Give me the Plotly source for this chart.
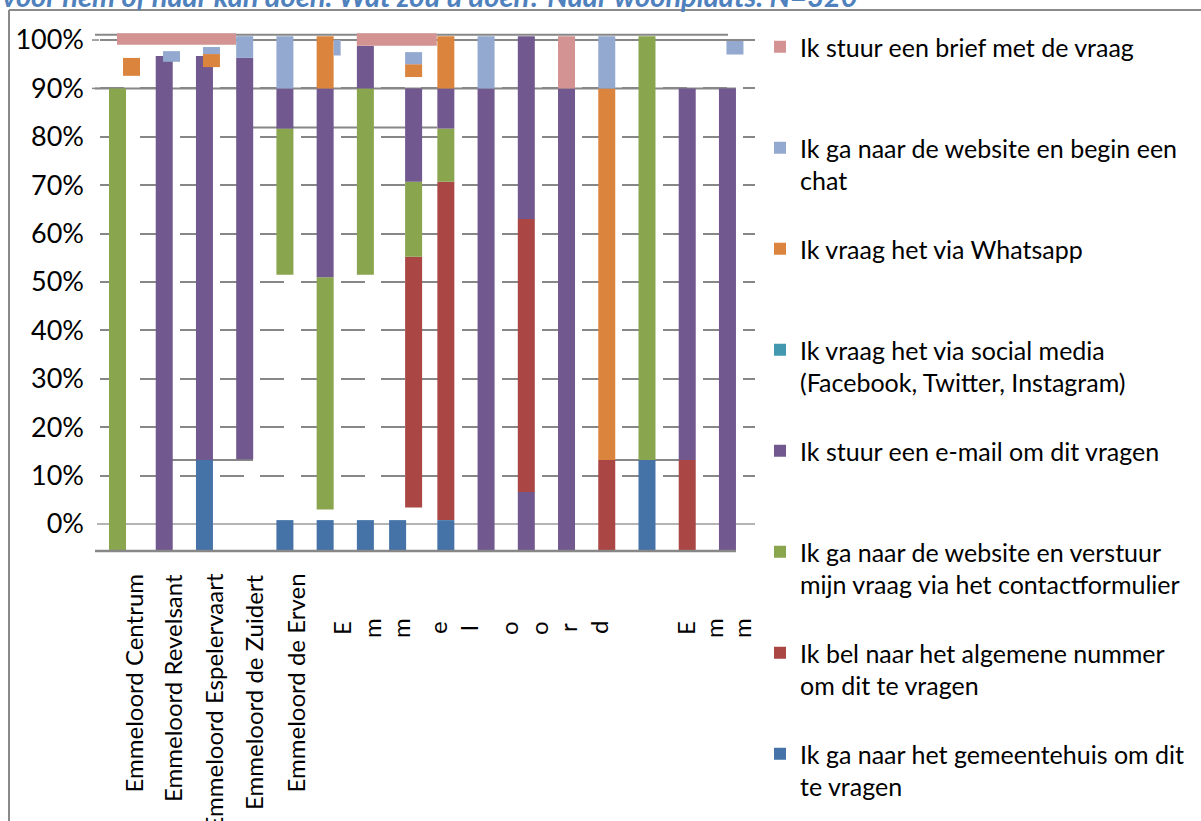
import plotly.graph_objects as go

# ---------------------------------------------------------------------------
# Data: share of respondents per answer, per woonplaats (fractions of 1).
# For every answer the lower and upper edge of its segment in each bar.
# ---------------------------------------------------------------------------
N = None

labels = ["Emmeloord Centrum", "Emmeloord Revelsant", "Emmeloord Espelervaart",
          "Emmeloord de Zuidert", "Emmeloord de Erven",
          "E", "m", "m", "e", "l", "o", "o", "r", "d", "E", "m", "m"]

bars = list(range(16))

gemeentehuis_van = [N, N, -0.056, N, -0.056, -0.056, -0.056, -0.056, -0.056, N, N, N, N, -0.056, N, N]
gemeentehuis_tot = [N, N, 0.132, N, 0.008, 0.008, 0.008, 0.008, 0.008, N, N, N, N, 0.132, N, N]

bel_van = [N, N, N, N, N, N, N, 0.034, 0.008, N, 0.066, N, -0.056, N, -0.056, N]
bel_tot = [N, N, N, N, N, N, N, 0.552, 0.707, N, 0.630, N, 0.132, N, 0.132, N]

formulier_van = [-0.056, N, N, N, 0.515, 0.030, 0.515, 0.552, 0.707, N, N, N, N, 0.132, N, N]
formulier_tot = [0.900, N, N, N, 0.817, 0.510, 0.900, 0.707, 0.817, N, N, N, N, 1.008, N, N]

email_van = [N, -0.056, 0.132, 0.134, 0.817, 0.510, 0.900, 0.707, 0.817, -0.056, -0.056, -0.056, N, N, 0.132, -0.056]
email_tot = [N, 0.967, 0.967, 0.963, 0.900, 0.900, 0.988, 0.900, 0.900, 0.900, 0.066, 0.900, N, N, 0.900, 0.900]
email_van_2 = [N, N, N, N, N, N, N, N, N, N, 0.630, N, N, N, N, N]
email_tot_2 = [N, N, N, N, N, N, N, N, N, N, 1.008, N, N, N, N, N]

social_van = [N] * 16
social_tot = [N] * 16

whatsapp_van = [0.926, N, 0.944, N, N, 0.900, N, 0.9235, 0.900, N, N, N, 0.132, N, N, N]
whatsapp_tot = [0.963, N, 0.971, N, N, 1.008, N, 0.950, 1.008, N, N, N, 0.900, N, N, N]

chat_van = [N, 0.955, 0.971, 0.963, 0.900, 0.968, N, 0.950, N, 0.900, N, N, 0.900, N, N, 0.970]
chat_tot = [N, 0.977, 0.9855, 1.008, 1.008, 1.000, N, 0.975, N, 1.008, N, N, 1.008, N, N, 0.998]

brief_van = [0.990, N, N, N, N, N, 0.988, N, N, N, N, 0.900, N, N, N, N]
brief_tot = [1.014, N, N, N, N, N, 1.014, N, N, N, N, 1.008, N, N, N, N]

# ---------------------------------------------------------------------------
# Layout geometry
# ---------------------------------------------------------------------------
W, H = 1201, 821
L, R, T, B = 97, 755, 33, 551          # plot area in pixels
PX_CAT = 40.23                         # pixels per bar step
X0_PX = 124.0                          # pixel centre of the first bar
BAR_PX = 17.0                          # bar width in pixels

x_range = [(L - X0_PX) / PX_CAT, (R - X0_PX) / PX_CAT]
y_range = [-0.0558, 1.0145]


def px_x(px):
    return (px - X0_PX) / PX_CAT


def paper_x(px):
    return (px - L) / (R - L)


def paper_y(py):
    return (B - py) / (B - T)


# segments drawn off their slot: (series, bar) -> (shift px, width px)
nudges = {
    ("formulier", 0): (-6.5, 17), ("whatsapp", 0): (7.5, 17), ("brief", 0): (52.5, 119),
    ("chat", 1): (7.3, 17),
    ("chat", 2): (7, 17), ("whatsapp", 2): (7, 17),
    ("chat", 5): (12, 7),
    ("brief", 6): (31.4, 80),
    ("gemeentehuis", 7): (-8, 17), ("bel", 7): (8, 17), ("formulier", 7): (8, 17),
    ("email", 7): (8, 17), ("whatsapp", 7): (8, 17), ("chat", 7): (8, 17),
    ("chat", 15): (7.5, 17),
}

# stacking order bottom -> top; the legend lists them top -> bottom in reverse
series = [
    ("gemeentehuis", "Ik ga naar het gemeentehuis om dit<br>te vragen", "#4572A7",
     gemeentehuis_van, gemeentehuis_tot),
    ("bel", "Ik bel naar het algemene nummer<br>om dit te vragen", "#AA4643",
     bel_van, bel_tot),
    ("formulier", "Ik ga naar de website en verstuur<br>mijn vraag via het contactformulier", "#89A54E",
     formulier_van, formulier_tot),
    ("email", "Ik stuur een e-mail om dit vragen<br>\u00a0", "#71588F",
     email_van, email_tot),
    ("social", "Ik vraag het via social media<br>(Facebook, Twitter, Instagram)", "#4198AF",
     social_van, social_tot),
    ("whatsapp", "Ik vraag het via Whatsapp<br>\u00a0", "#DB843D",
     whatsapp_van, whatsapp_tot),
    ("chat", "Ik ga naar de website en begin een<br>chat", "#93A9CF",
     chat_van, chat_tot),
    ("brief", "Ik stuur een brief met de vraag<br>\u00a0", "#D39392",
     brief_van, brief_tot),
]


def segment_trace(key, name, color, van, tot, rank, show=True):
    heights, widths, offsets = [], [], []
    for i, (a, b) in enumerate(zip(van, tot)):
        heights.append(None if a is None else b - a)
        dx, w = nudges.get((key, i), (0, BAR_PX))
        wu = w / PX_CAT
        widths.append(wu)
        offsets.append(dx / PX_CAT - wu / 2)
    return go.Bar(
        x=bars, y=heights, base=van, width=widths, offset=offsets,
        name=name, legendgroup=key, legendrank=rank, showlegend=show,
        marker=dict(color=color, line=dict(width=0)),
        hoverinfo="skip",
    )


fig = go.Figure()
for k, (key, name, color, van, tot) in enumerate(series):
    rank = len(series) - k
    fig.add_trace(segment_trace(key, name, color, van, tot, rank))
    if key == "email":
        fig.add_trace(segment_trace(key, name, color, email_van_2, email_tot_2, rank, show=False))

GRID = "#878787"

shapes = [
    # chart frame
    dict(type="line", xref="paper", yref="paper", x0=paper_x(9), x1=paper_x(1205),
         y0=paper_y(10), y1=paper_y(10), line=dict(color="#8a8a8a", width=2)),
    dict(type="line", xref="paper", yref="paper", x0=paper_x(9), x1=paper_x(9),
         y0=paper_y(10), y1=paper_y(830), line=dict(color="#8a8a8a", width=2)),
    # solid upper gridlines
    dict(type="line", xref="paper", yref="y", x0=paper_x(95), x1=paper_x(736),
         y0=0.9, y1=0.9, line=dict(color=GRID, width=2), layer="below"),
    dict(type="line", xref="paper", yref="y", x0=paper_x(111), x1=paper_x(755),
         y0=1.0, y1=1.0, line=dict(color=GRID, width=2), layer="below"),
    dict(type="line", xref="paper", yref="y", x0=paper_x(95), x1=paper_x(728),
         y0=1.011, y1=1.011, line=dict(color=GRID, width=2), layer="below"),
    dict(type="line", xref="paper", yref="y", x0=paper_x(252), x1=paper_x(437),
         y0=0.819, y1=0.819, line=dict(color=GRID, width=2), layer="below"),
    dict(type="line", xref="paper", yref="y", x0=paper_x(172), x1=paper_x(253),
         y0=0.132, y1=0.132, line=dict(color=GRID, width=2), layer="below"),
    dict(type="line", xref="paper", yref="y", x0=paper_x(615), x1=paper_x(679),
         y0=0.132, y1=0.132, line=dict(color=GRID, width=2), layer="below"),
    # small value-axis tick marks
    dict(type="line", xref="paper", yref="y", x0=paper_x(92), x1=paper_x(99),
         y0=1.0, y1=1.0, line=dict(color=GRID, width=1.5)),
    dict(type="line", xref="paper", yref="y", x0=paper_x(92), x1=paper_x(99),
         y0=0.9, y1=0.9, line=dict(color=GRID, width=1.5)),
    # category axis line
    dict(type="line", xref="paper", yref="paper", x0=paper_x(95), x1=paper_x(736),
         y0=0, y1=0, line=dict(color=GRID, width=2.5)),
]

FONT = "Lato"
annotations = [
    dict(text="<b><i>voor hem of haar kan doen. Wat zou u doen? Naar woonplaats. N=320</i></b>",
         xref="paper", yref="paper", x=paper_x(0), y=paper_y(15), xanchor="left", yanchor="bottom",
         showarrow=False, font=dict(family=FONT, size=29, color="#4F81BD")),
]

# category labels below the axis
label_px = [133, 172, 213, 253, 295, 341, 371, 400, 437, 468, 508, 538, 567, 598, 685, 713, 741]
for i, (txt, px) in enumerate(zip(labels, label_px)):
    if i < 5:
        y, anchor = paper_y(572), "top"
    else:
        y, anchor = paper_y(628), "middle"
    annotations.append(dict(
        text=txt, xref="x", yref="paper", x=px_x(px), y=y,
        xanchor="center", yanchor=anchor, textangle=-90, showarrow=False,
        font=dict(family=FONT, size=24, color="#000000")))

fig.update_layout(
    width=W, height=H,
    margin=dict(l=L, r=W - R, t=T, b=H - B, pad=0, autoexpand=False),
    paper_bgcolor="white", plot_bgcolor="white",
    barmode="overlay",
    font=dict(family=FONT, size=25, color="#000000"),
    xaxis=dict(range=x_range, showticklabels=False, showgrid=False, zeroline=False,
               showline=False, ticks=""),
    yaxis=dict(range=y_range, tickmode="array",
               tickvals=[i / 10 for i in range(11)],
               ticktext=[f"{i * 10}%" for i in range(11)],
               tickfont=dict(family=FONT, size=27, color="#000000"),
               showgrid=True, gridcolor=GRID, gridwidth=2, griddash="0px,2.5px,24px,13.73px",
               zeroline=True, zerolinecolor="#b4b4b4", zerolinewidth=2,
               showline=False, ticks="", ticklabelstandoff=12),
    legend=dict(x=paper_x(760), xanchor="left",
                yref="container", y=1 - 24 / H, yanchor="top", maxheight=800,
                traceorder="grouped", tracegroupgap=33, valign="top",
                font=dict(family=FONT, size=25, color="#000000"),
                bgcolor="rgba(0,0,0,0)"),
    shapes=shapes,
    annotations=annotations,
    showlegend=True,
)

fig.write_html("out.html")
